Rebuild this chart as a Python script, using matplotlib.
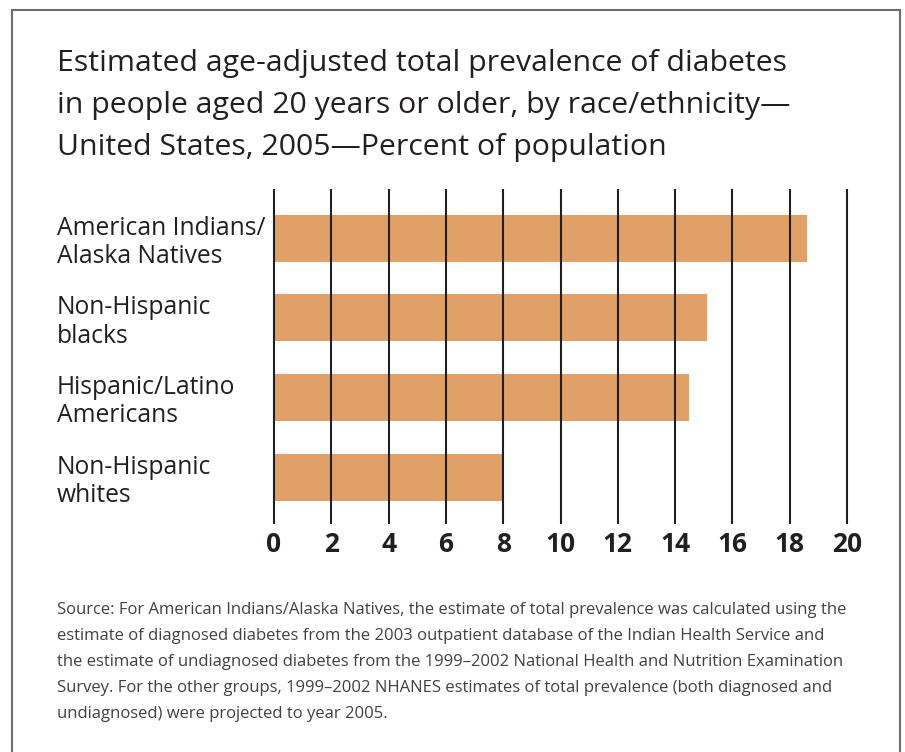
import matplotlib.pyplot as plt
import matplotlib.patches as patches
import matplotlib.transforms as mtransforms

groups = ["American Indians/\nAlaska Natives", "Non-Hispanic\nblacks",
          "Hispanic/Latino\nAmericans", "Non-Hispanic\nwhites"]
prevalence = [18.6, 15.1, 14.5, 8.0]
x_ticks = list(range(0, 21, 2))

title_lines = ["Estimated age-adjusted total prevalence of diabetes",
               "in people aged 20 years or older, by race/ethnicity\u2014",
               "United States, 2005\u2014Percent of population"]
source_lines = ["Source: For American Indians/Alaska Natives, the estimate of total prevalence was calculated using the",
                "estimate of diagnosed diabetes from the 2003 outpatient database of the Indian Health Service and",
                "the estimate of undiagnosed diabetes from the 1999\u20132002 National Health and Nutrition Examination",
                "Survey. For the other groups, 1999\u20132002 NHANES estimates of total prevalence (both diagnosed and",
                "undiagnosed) were projected to year 2005."]

W, H = 905, 752
plt.rcParams['font.family'] = ['Open Sans', 'DejaVu Sans']
fig = plt.figure(figsize=(W / 100, H / 100), dpi=100)

# outer frame
fig.patches.append(patches.Rectangle((12 / W, -0.1), (900 - 12) / W, 1 - 10 / H + 0.1,
                                     transform=fig.transFigure, fill=False,
                                     edgecolor='#6d6e71', lw=1.5))

ax = fig.add_axes([274 / W, 1 - 523 / H, (847 - 274) / W, (523 - 190) / H])
ypos = list(range(len(groups)))
ax.barh(ypos, prevalence, height=0.59, color='#e1a067', zorder=1)
ax.set_xlim(0, 20)
ax.set_ylim(3.575, -0.606)
ax.set_xticks(x_ticks)
ax.set_yticks([])
for v in x_ticks:
    ax.axvline(v, color='#231f20', lw=1.5, zorder=2, clip_on=False)
for s in ax.spines.values():
    s.set_visible(False)
ax.tick_params(axis='x', length=0, pad=6, labelsize=19, colors='#231f20')
for lab in ax.get_xticklabels():
    lab.set_fontweight('bold')

# category labels, two lines each, baselines offset from the bar centre
base = mtransforms.blended_transform_factory(fig.transFigure, ax.transData)
for y, g in zip(ypos, groups):
    for j, line in enumerate(g.split('\n')):
        off = -3.5 + 28.3 * j
        tr = base + mtransforms.ScaledTranslation(0, -off / 100, fig.dpi_scale_trans)
        ax.text(57 / W, y, line, transform=tr, ha='left', va='baseline',
                fontsize=17.7, color='#231f20')

for j, line in enumerate(title_lines):
    fig.text(57 / W, 1 - (71 + 42 * j) / H, line, ha='left', va='baseline',
             fontsize=21.8, color='#231f20')
for j, line in enumerate(source_lines):
    fig.text(57 / W, 1 - (614 + 26 * j) / H, line, ha='left', va='baseline',
             fontsize=12.0, color='#414042')

fig.savefig('out.png', dpi=100)
